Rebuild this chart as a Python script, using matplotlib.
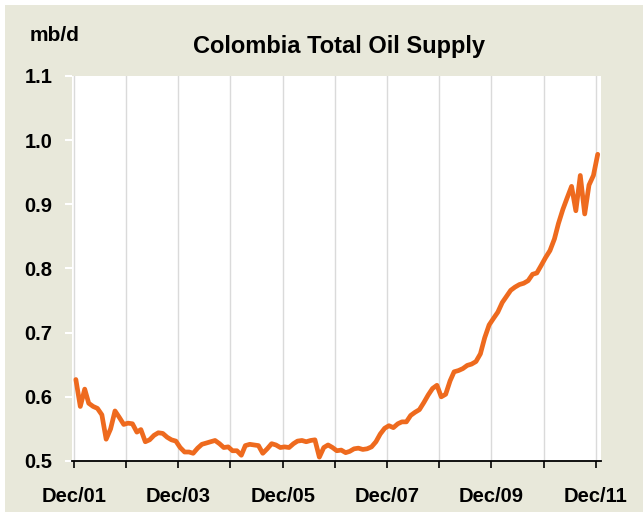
import matplotlib.pyplot as plt
from matplotlib.patches import Rectangle
import pandas as pd

plt.rcParams['font.family'] = ['Liberation Sans', 'DejaVu Sans']

# monthly supply, mb/d, Dec 2001 - Dec 2011
supply = [
    0.627, 0.585, 0.612, 0.590, 0.585, 0.582, 0.572, 0.534, 0.550, 0.578, 0.568, 0.557,
    0.559, 0.558, 0.545, 0.549, 0.530, 0.533, 0.540, 0.544, 0.543, 0.537, 0.533, 0.531,
    0.521, 0.514, 0.514, 0.512, 0.520, 0.526, 0.528, 0.530, 0.532, 0.527, 0.521, 0.522,
    0.516, 0.516, 0.509, 0.524, 0.526, 0.525, 0.524, 0.512, 0.519, 0.527, 0.525, 0.521,
    0.522, 0.521, 0.527, 0.531, 0.532, 0.530, 0.532, 0.533, 0.506, 0.521, 0.525, 0.521,
    0.516, 0.517, 0.513, 0.515, 0.519, 0.520, 0.518, 0.519, 0.522, 0.530, 0.542, 0.551,
    0.555, 0.552, 0.558, 0.561, 0.561, 0.571, 0.576, 0.580, 0.591, 0.603, 0.613, 0.618,
    0.600, 0.604, 0.625, 0.639, 0.641, 0.644, 0.649, 0.651, 0.655, 0.667, 0.692, 0.712,
    0.722, 0.732, 0.747, 0.756, 0.766, 0.771, 0.775, 0.777, 0.781, 0.791, 0.793, 0.805,
    0.817, 0.828, 0.846, 0.870, 0.892, 0.910, 0.928, 0.890, 0.945, 0.885, 0.930, 0.945,
    0.978,
]
tick_years = list(range(2001, 2012))
tick_labels = ['Dec/01', '', 'Dec/03', '', 'Dec/05', '', 'Dec/07', '', 'Dec/09', '', 'Dec/11']
yticks = [0.5, 0.6, 0.7, 0.8, 0.9, 1.0, 1.1]

bg = '#E8E8DA'
orange = '#EE6A1E'

dates = pd.date_range('2001-12-01', periods=len(supply), freq='MS') + pd.Timedelta(days=14)
tick_dates = pd.to_datetime([f'{y}-12-01' for y in tick_years])

fig = plt.figure(figsize=(6.43, 5.18), dpi=100, facecolor='white')
fig.patches.append(Rectangle((5 / 643, 6 / 518), 638 / 643, 507 / 518,
                             transform=fig.transFigure, facecolor=bg,
                             edgecolor='none', zorder=-1))

ax = fig.add_axes([72 / 643, 57 / 518, 529 / 643, 385 / 518])
ax.set_facecolor('white')

ax.plot(dates, supply, color=orange, lw=3.4, solid_joinstyle='round',
        solid_capstyle='round', clip_on=False, zorder=3)

ax.set_ylim(0.5, 1.1)
ax.set_yticks(yticks)
ax.set_yticklabels([f'{v:.1f}' for v in yticks])
ax.set_xlim(pd.Timestamp('2001-11-18'), pd.Timestamp('2012-01-07'))
ax.set_xticks(tick_dates)
ax.set_xticklabels(tick_labels)

for s in ['top', 'right', 'left']:
    ax.spines[s].set_visible(False)
ax.spines['bottom'].set_color('black')
ax.spines['bottom'].set_linewidth(1.3)

ax.grid(axis='x', color='#DADADA', lw=1)
ax.set_axisbelow(True)

ax.tick_params(axis='y', color='white', labelcolor='black', length=5, width=1.5,
               pad=9, labelsize=14.5)
ax.tick_params(axis='x', color='black', length=5, width=1.2, pad=14, labelsize=14.5)
for lbl in ax.get_xticklabels() + ax.get_yticklabels():
    lbl.set_fontweight('bold')

fig.text(339 / 643, 1 - 53 / 518, 'Colombia Total Oil Supply', ha='center',
         va='baseline', fontsize=17, fontweight='bold')
fig.text(30 / 643, 1 - 41 / 518, 'mb/d', ha='left', va='baseline',
         fontsize=15, fontweight='bold')

fig.savefig('out.png', dpi=100, facecolor='white')
